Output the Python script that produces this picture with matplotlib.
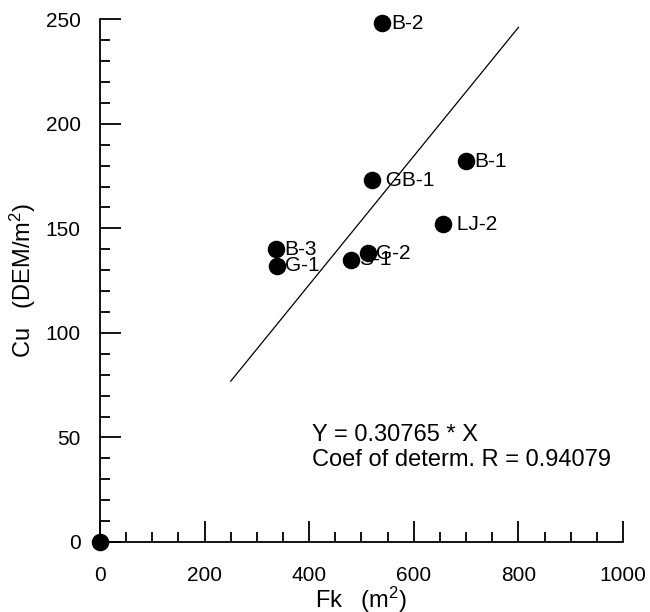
import numpy as np
import matplotlib.pyplot as plt
from matplotlib.ticker import MultipleLocator

plt.rcParams["font.family"] = ["Liberation Sans", "DejaVu Sans"]
plt.rcParams["mathtext.fontset"] = "custom"
plt.rcParams["mathtext.rm"] = "Liberation Sans"
plt.rcParams["mathtext.it"] = "Liberation Sans:italic"

# sample points (Fk in m2, Cu in DEM/m2)
labels = ["", "B-2", "B-1", " GB-1", " LJ-2", "G-2", "S-1", "B-3", "G-1"]
fk = [0, 540, 700, 520, 656, 512, 480, 336, 338]
cu = [0, 248, 182, 173, 152, 138, 135, 140, 132]

# fitted line Y = slope * X
slope = 0.30765
r_det = 0.94079
fit_x = [250, 800]

fs_tick = 15
fs_label = 17

fig = plt.figure(figsize=(6.5, 6.12), dpi=100)
ax = fig.add_axes([0.1538, 0.1144, 0.8047, 0.8541])

ax.plot(fit_x, [slope * v for v in fit_x], color="black", lw=0.9)
ax.scatter(fk, cu, s=135, color="black", zorder=5, clip_on=False)
for x, y, lab in zip(fk, cu, labels):
    if lab:
        ax.annotate(lab, (x, y), xytext=(6, 0), textcoords="offset points",
                    va="center", ha="left", fontsize=fs_tick)

ax.text(405, 36.3, "Y = %.5f * X\nCoef of determ. R = %.5f" % (slope, r_det),
        fontsize=fs_label, va="baseline", ha="left")

ax.set_xlim(0, 1000)
ax.set_ylim(0, 250)
ax.spines["top"].set_visible(False)
ax.spines["right"].set_visible(False)
for s in ["left", "bottom"]:
    ax.spines[s].set_linewidth(1.3)

ax.xaxis.set_major_locator(MultipleLocator(200))
ax.xaxis.set_minor_locator(MultipleLocator(50))
ax.yaxis.set_major_locator(MultipleLocator(50))
ax.yaxis.set_minor_locator(MultipleLocator(10))
ax.tick_params(axis="x", which="major", direction="in", length=15, width=1.3, pad=17, labelsize=fs_tick)
ax.tick_params(axis="y", which="major", direction="in", length=15, width=1.3, pad=14, labelsize=fs_tick)
ax.tick_params(which="minor", direction="in", length=7.5, width=1.3)

ax.set_xlabel("Fk   (m$\\mathregular{^2}$)", fontsize=fs_label, labelpad=0.5)
ax.set_ylabel("Cu   (DEM/m$\\mathregular{^2}$)", fontsize=fs_label, labelpad=5)

fig.savefig("out.png", dpi=100)
